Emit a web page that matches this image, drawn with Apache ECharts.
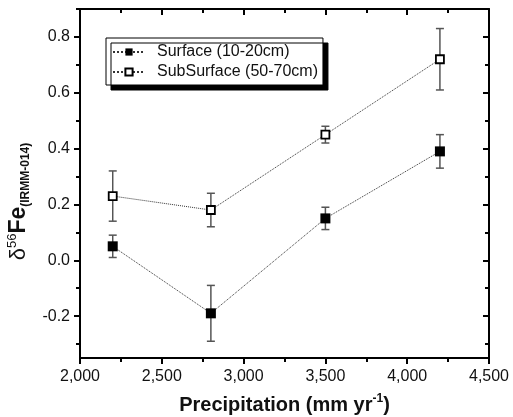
<!DOCTYPE html>
<html>
<head>
<meta charset="utf-8">
<script src="https://cdn.jsdelivr.net/npm/echarts@6/dist/echarts.min.js"></script>
<style>
    html, body { margin: 0; padding: 0; background: #fff; }
    #chart { width: 513px; height: 417px; }
</style>
</head>
<body>
<div id="chart"></div>
<script>
// precipitation (mm/yr) at each site
const precip = [2200, 2800, 3500, 4200];
// delta56Fe values and their error bars
const surface = [0.05, -0.19, 0.15, 0.39];
const surfaceErr = [0.04, 0.10, 0.04, 0.06];
const subsurface = [0.23, 0.18, 0.45, 0.72];
const subsurfaceErr = [0.09, 0.06, 0.03, 0.11];

const seriesNames = ["Surface (10-20cm)", "SubSurface (50-70cm)"];

// axis ticks
const yMajorTicks = [-0.2, 0, 0.2, 0.4, 0.6, 0.8];
const yMinorTicks = [-0.3, -0.1, 0.1, 0.3, 0.5, 0.7, 0.9];

const font = "'Liberation Sans', Arial, Helvetica, sans-serif";

const pairs = (xs, ys, es) => xs.map((x, i) => (es ? [x, ys[i], es[i]] : [x, ys[i]]));

const errorBars = (name, data) => ({
    name: name + " err",
    type: "custom",
    z: 1,
    silent: true,
    data: data,
    renderItem: function(params, api) {
        const x = api.value(0);
        const y = api.value(1);
        const e = api.value(2);
        const top = api.coord([x, y + e]);
        const bot = api.coord([x, y - e]);
        const half = 4;
        const style = { stroke: "#555", lineWidth: 1.5 };
        return {
            type: "group",
            children: [
                { type: "line", shape: { x1: top[0], y1: top[1], x2: bot[0], y2: bot[1] }, style: style },
                { type: "line", shape: { x1: top[0] - half, y1: top[1], x2: top[0] + half, y2: top[1] }, style: style },
                { type: "line", shape: { x1: bot[0] - half, y1: bot[1], x2: bot[0] + half, y2: bot[1] }, style: style }
            ]
        };
    }
});

const axisLine = { show: true, onZero: false, lineStyle: { color: "#000", width: 2 } };

const xBase = {
    type: "value",
    min: 2000,
    max: 4500,
    interval: 500,
    axisLine: axisLine,
    splitLine: { show: false },
    minorTick: { show: true, splitNumber: 2, length: 4, lineStyle: { color: "#000", width: 2 } }
};

const yBase = {
    type: "value",
    min: -0.35,
    max: 0.9,
    splitLine: { show: false },
    axisLabel: { show: false }
};

const chart = echarts.init(document.getElementById("chart"));

const option = {
    backgroundColor: "#fff",
    animation: false,
    textStyle: { fontFamily: font },
    grid: { left: 80, right: 24, top: 9, bottom: 59, outerBoundsMode: "none" },
    legend: {
        orient: "vertical",
        left: 106,
        top: 38,
        padding: [6, 5, 5, 6],
        itemGap: 4,
        itemWidth: 32,
        itemHeight: 9,
        backgroundColor: "#fff",
        borderColor: "#000",
        borderWidth: 1,
        shadowColor: "#000",
        shadowBlur: 0,
        shadowOffsetX: 5,
        shadowOffsetY: 5,
        textStyle: { fontSize: 16, color: "#111", fontFamily: font, padding: [0, 0, 0, 7] },
        data: seriesNames
    },
    xAxis: [
        Object.assign({}, xBase, {
            position: "bottom",
            axisTick: { length: 6, lineStyle: { color: "#000", width: 2 } },
            axisLabel: {
                fontSize: 16,
                color: "#111",
                margin: 11,
                formatter: v => v.toLocaleString("en-US")
            },
            name: "{t|Precipitation (mm yr}{s|-1}{t|)}",
            nameLocation: "middle",
            nameGap: 35,
            nameTextStyle: {
                rich: {
                    t: { fontSize: 20, fontWeight: "bold", color: "#111", fontFamily: font, lineHeight: 24 },
                    s: { fontSize: 12, fontWeight: "bold", color: "#111", fontFamily: font, lineHeight: 14, verticalAlign: "top" }
                }
            }
        }),
        Object.assign({}, xBase, {
            position: "top",
            axisTick: { inside: true, length: 6, lineStyle: { color: "#000", width: 2 } },
            axisLabel: { show: false }
        })
    ],
    yAxis: [
        Object.assign({}, yBase, {
            position: "left",
            axisLine: axisLine,
            axisTick: { customValues: yMajorTicks, length: 6, lineStyle: { color: "#000", width: 2 } },
            axisLabel: {
                show: true,
                customValues: yMajorTicks,
                fontSize: 16,
                color: "#111",
                margin: 10,
                formatter: v => v.toFixed(1)
            },
            name: "{d|δ}{sup|56}{fe|Fe}{sub|(IRMM-014)}",
            nameLocation: "middle",
            nameRotate: 90,
            nameGap: 30,
            nameTextStyle: {
                padding: [0, 36, 0, 0],
                rich: {
                    d: { fontSize: 22, color: "#111", fontFamily: font, lineHeight: 26 },
                    sup: { fontSize: 13, color: "#111", fontFamily: font, lineHeight: 14, verticalAlign: "top" },
                    fe: { fontSize: 23, fontWeight: "bold", color: "#111", fontFamily: font, lineHeight: 26 },
                    sub: { fontSize: 12, fontWeight: "bold", color: "#111", fontFamily: font, lineHeight: 12, verticalAlign: "bottom" }
                }
            }
        }),
        Object.assign({}, yBase, {
            position: "left",
            axisLine: { show: false },
            axisTick: { customValues: yMinorTicks, length: 4, lineStyle: { color: "#000", width: 2 } }
        }),
        Object.assign({}, yBase, {
            position: "right",
            axisLine: axisLine,
            axisTick: { inside: true, customValues: yMajorTicks, length: 6, lineStyle: { color: "#000", width: 2 } }
        }),
        Object.assign({}, yBase, {
            position: "right",
            axisLine: { show: false },
            axisTick: { inside: true, customValues: yMinorTicks, length: 4, lineStyle: { color: "#000", width: 2 } }
        })
    ],
    series: [
        errorBars(seriesNames[0], pairs(precip, surface, surfaceErr)),
        errorBars(seriesNames[1], pairs(precip, subsurface, subsurfaceErr)),
        {
            name: seriesNames[0],
            type: "line",
            z: 3,
            data: pairs(precip, surface),
            symbol: "rect",
            symbolSize: 10,
            itemStyle: { color: "#000" },
            lineStyle: { color: "#333", width: 1, type: "dotted" }
        },
        {
            name: seriesNames[1],
            type: "line",
            z: 3,
            data: pairs(precip, subsurface),
            symbol: "rect",
            symbolSize: 8,
            showAllSymbol: true,
            itemStyle: { color: "#fff", borderColor: "#000", borderWidth: 1.8 },
            lineStyle: { color: "#333", width: 1, type: "dotted" }
        }
    ]
};

chart.setOption(option);
</script>
</body>
</html>
